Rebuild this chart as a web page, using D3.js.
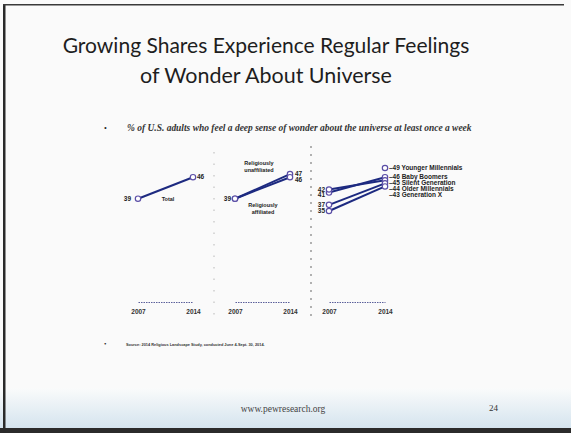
<!DOCTYPE html>
<html>
<head>
<meta charset="utf-8">
<script src="https://cdn.jsdelivr.net/npm/d3@7"></script>
<style>
body { margin: 0; background: #fff; }
svg { display: block; }
</style>
</head>
<body>
<script>
// data
var years = [2007, 2014];
var totalName = ["Total"];
var totalVals = [39, 46];
var religGroups = [["Religiously", "unaffiliated"], ["Religiously", "affiliated"]];
var religVals = [[39, 47], [39, 46]];
var genGroups = ["Younger Millennials", "Baby Boomers", "Silent Generation", "Older Millennials", "Generation X"];
var genVals = [[null, 49], [41, 46], [42, 45], [37, 44], [35, 43]];
var titleLines = ["Growing Shares Experience Regular Feelings", "of Wonder About Universe"];
var subtitle = "% of U.S. adults who feel a deep sense of wonder about the universe at least once a week";
var source = "Source: 2014 Religious Landscape Study, conducted June 4-Sept. 30, 2014.";

var W = 571, H = 433;
var svg = d3.select("body").append("svg").attr("width", W).attr("height", H);

// slide background + bottom band
var defs = svg.append("defs");
var gr = defs.append("linearGradient").attr("id", "band").attr("x1", 0).attr("y1", 0).attr("x2", 0).attr("y2", 1);
gr.append("stop").attr("offset", "0%").attr("stop-color", "#fafbfb");
gr.append("stop").attr("offset", "100%").attr("stop-color", "#d3e3ee");
svg.append("rect").attr("width", W).attr("height", H).attr("fill", "#fafafa");
svg.append("rect").attr("x", 0).attr("y", 388).attr("width", W).attr("height", 42).attr("fill", "url(#band)");
svg.append("rect").attr("x", 0).attr("y", 428).attr("width", W).attr("height", 5).attr("fill", "#2b2b2b");
svg.append("rect").attr("x", 3).attr("y", 4).attr("width", 2.5).attr("height", H).attr("fill", "#2a2a2a");
svg.append("rect").attr("x", 3).attr("y", 4).attr("width", W - 10).attr("height", 1.5).attr("fill", "#3a3a3a");

// fit text to a target width
function fit(sel, width) {
  var len = sel.node().getComputedTextLength();
  var fs = parseFloat(sel.attr("font-size"));
  sel.attr("font-size", fs * width / len);
}

// title
svg.selectAll(".title").data(titleLines).enter().append("text")
  .attr("class", "title")
  .attr("x", 266).attr("y", function (d, i) { return 53 + i * 30; })
  .attr("text-anchor", "middle")
  .attr("font-family", "Lato, 'Open Sans', sans-serif")
  .attr("font-size", 22).attr("fill", "#1e1e1e")
  .text(function (d) { return d; })
  .each(function (d, i) { fit(d3.select(this), i == 0 ? 407 : 252); });

// subtitle with bullet
svg.append("text").attr("x", 104).attr("y", 131).attr("font-size", 8).attr("fill", "#222").text("\u2022");
var sub = svg.append("text").attr("x", 127).attr("y", 131)
  .attr("font-family", "'Liberation Serif', serif").attr("font-style", "italic").attr("font-weight", "bold")
  .attr("font-size", 9).attr("fill", "#333").text(subtitle);
fit(sub, 345);

// common y scale
var y = d3.scaleLinear().domain([35, 49]).range([211, 168]);

// dotted panel separators
svg.append("line").attr("x1", 214).attr("x2", 214).attr("y1", 152).attr("y2", 320)
  .attr("stroke", "#c4c4c4").attr("stroke-width", 1.2).attr("stroke-dasharray", "1.5,10");
svg.append("line").attr("x1", 311).attr("x2", 311).attr("y1", 146).attr("y2", 320)
  .attr("stroke", "#8a8a8a").attr("stroke-width", 1.3).attr("stroke-dasharray", "2,6");

var panels = [[138, 193], [235, 290], [329, 385]];
var lineCol = "#1d2a80", dotCol = "#5b4ea6";
var lbFont = "'Liberation Sans', Arial, sans-serif";

function makeX(p) { return d3.scaleLinear().domain(years).range(panels[p]); }

function drawAxis(x) {
  var g = svg.append("g").attr("transform", "translate(0,302)")
    .call(d3.axisBottom(x).tickValues(years).tickFormat(d3.format("d")).tickSize(0).tickSizeOuter(0).tickPadding(7));
  g.select(".domain").attr("stroke", "#5a5f9a").attr("stroke-width", 1.1).attr("stroke-dasharray", "1.5,1");
  g.selectAll("text").attr("font-family", lbFont).attr("font-weight", "bold").attr("font-size", 6.5).attr("fill", "#333");
}

function drawSeries(x, vals) {
  var pts = years.map(function (yr, i) { return { yr: yr, v: vals[i] }; });
  var line = d3.line().defined(function (d) { return d.v != null; })
    .x(function (d) { return x(d.yr); }).y(function (d) { return y(d.v); });
  svg.append("path").datum(pts).attr("d", line)
    .attr("fill", "none").attr("stroke", lineCol).attr("stroke-width", 2);
  svg.selectAll(null).data(pts.filter(function (d) { return d.v != null; })).enter().append("circle")
    .attr("cx", function (d) { return x(d.yr); }).attr("cy", function (d) { return y(d.v); })
    .attr("r", 2.7).attr("fill", "#fff").attr("stroke", dotCol).attr("stroke-width", 1.2);
}

// spread label positions so they don't overlap
function spread(vals, gap) {
  var items = vals.map(function (v, i) { return { i: i, v: v, y: y(v) }; })
    .sort(function (a, b) { return a.y - b.y; });
  for (var k = 1; k < items.length; k++) {
    if (items[k].y - items[k - 1].y < gap) items[k].y = items[k - 1].y + gap;
  }
  var out = [];
  items.forEach(function (d) { out[d.i] = d.y; });
  return out;
}

function numLabel(xpos, ypos, txt, anchor) {
  svg.append("text").attr("x", xpos).attr("y", ypos).attr("dy", "0.35em")
    .attr("text-anchor", anchor).attr("font-family", lbFont).attr("font-weight", "bold")
    .attr("font-size", 6.5).attr("fill", "#222").text(txt);
}

function smallText(xpos, ypos, lines) {
  svg.append("text").attr("x", xpos).attr("y", ypos).attr("text-anchor", "middle")
    .attr("font-family", lbFont).attr("font-weight", "bold").attr("font-size", 5.5).attr("fill", "#222")
    .selectAll("tspan").data(lines).enter().append("tspan")
    .attr("x", xpos).attr("dy", function (d, i) { return i ? 7 : 0; }).text(function (d) { return d; });
}

// panel 1: total
var x1 = makeX(0);
drawAxis(x1);
drawSeries(x1, totalVals);
numLabel(x1(2007) - 7, y(totalVals[0]), totalVals[0], "end");
numLabel(x1(2014) + 4, y(totalVals[1]), totalVals[1], "start");
smallText(168, y(totalVals[0]) + 2, totalName);

// panel 2: religious affiliation
var x2 = makeX(1);
drawAxis(x2);
religVals.forEach(function (v) { drawSeries(x2, v); });
numLabel(x2(2007) - 4, y(religVals[0][0]), religVals[0][0], "end");
var r14 = spread(religVals.map(function (d) { return d[1]; }), 6);
religVals.forEach(function (v, i) { numLabel(x2(2014) + 5, r14[i], v[1], "start"); });
smallText(259, 165, religGroups[0]);
smallText(263, 207, religGroups[1]);

// panel 3: generations
var x3 = makeX(2);
drawAxis(x3);
genVals.forEach(function (v) { drawSeries(x3, v); });
var g07 = genVals.filter(function (d) { return d[0] != null; }).map(function (d) { return d[0]; });
var l07 = spread(g07, 5.5);
g07.forEach(function (v, i) { numLabel(x3(2007) - 4, l07[i], v, "end"); });
var l14 = spread(genVals.map(function (d) { return d[1]; }), 6);
genVals.forEach(function (v, i) {
  numLabel(x3(2014) + 4, l14[i], "\u2013" + v[1] + " " + genGroups[i], "start");
});

// source note
svg.append("text").attr("x", 104).attr("y", 346).attr("font-size", 7).attr("fill", "#222").text("\u2022");
var src = svg.append("text").attr("x", 126).attr("y", 346)
  .attr("font-family", lbFont).attr("font-weight", "bold").attr("font-size", 4).attr("fill", "#333").text(source);
fit(src, 139);

// footer
svg.append("text").attr("x", 283).attr("y", 412).attr("text-anchor", "middle")
  .attr("font-family", "'Liberation Serif', serif").attr("font-size", 9.5).attr("fill", "#444")
  .text("www.pewresearch.org");
svg.append("text").attr("x", 489).attr("y", 411)
  .attr("font-family", "'Liberation Serif', serif").attr("font-size", 9).attr("fill", "#333").text("24");
</script>
</body>
</html>
